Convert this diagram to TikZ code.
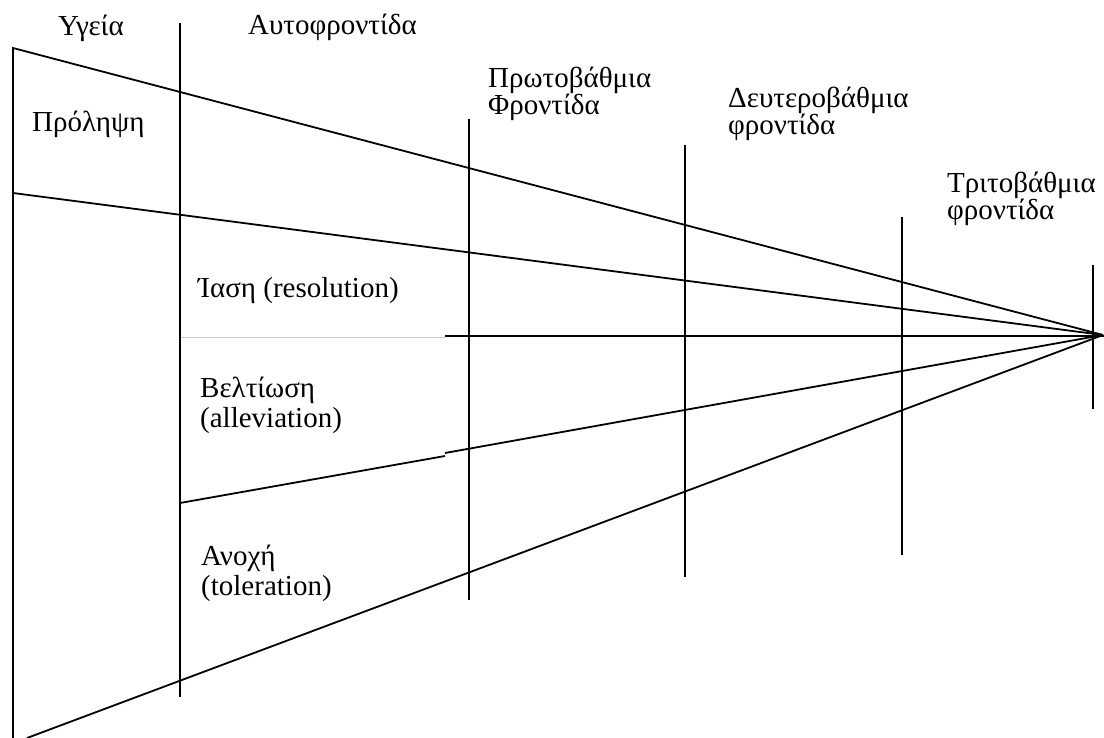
\documentclass[tikz,border=0pt]{standalone}
\usepackage{fontspec}
\setmainfont{Liberation Serif}
\begin{document}
\begin{tikzpicture}[x=1pt,y=-1pt,
  rule/.style={line width=1.8pt, black},
  faint/.style={line width=0.8pt, black!22},
  lbl/.style={anchor=base west, inner sep=0pt, align=left,
              font=\fontsize{29}{26}\selectfont},
  lblwide/.style={lbl, font=\fontsize{29}{30}\selectfont}]
\useasboundingbox (0,0) rectangle (1104,738);

% focal point where the levels converge
\coordinate (F) at (1103,335);

% left edge and the two upper rays
\coordinate (L1) at (13,48);
\coordinate (L2) at (13,193);
\coordinate (Lb) at (13,738);
\draw[rule] (Lb) -- (L1) -- (F);
\draw[rule] (L2) -- (F);

% horizontal axis (faint inside self-care, solid beyond)
\coordinate (H0) at (180,337);
\coordinate (H1) at (445,337);
\coordinate (H2) at (445,336);
\coordinate (H3) at (1104,336);
\draw[faint] (H0) -- (H1);
\draw[rule] (H2) -- (H3);

% lower rays
\coordinate (B0) at (180,503);
\coordinate (B1) at (445,456);
\coordinate (B2) at (445,453);
\draw[rule] (B0) -- (B1);
\draw[rule] (B2) -- (F);
\coordinate (C0) at (27,738);
\draw[rule] (C0) -- (F);

% vertical level separators
\coordinate (V1a) at (180,23);   \coordinate (V1b) at (180,697);
\coordinate (V2a) at (469,119);  \coordinate (V2b) at (469,600);
\coordinate (V3a) at (685,145);  \coordinate (V3b) at (685,577);
\coordinate (V4a) at (902,217);  \coordinate (V4b) at (902,555);
\coordinate (V5a) at (1093,265); \coordinate (V5b) at (1093,409);
\draw[rule] (V1a) -- (V1b);
\draw[rule] (V2a) -- (V2b);
\draw[rule] (V3a) -- (V3b);
\draw[rule] (V4a) -- (V4b);
\draw[rule] (V5a) -- (V5b);

% labels (two-line labels sit on the baseline of their last line)
\node[lbl] (ygeia) at (58,36) {Υγεία};
\node[lbl] (afto) at (248,35) {Αυτοφροντίδα};
\node[lbl] (prol) at (32,132) {Πρόληψη};
\node[lbl] (prot) at (488,115) {Πρωτοβάθμια\\Φροντίδα};
\node[lbl] (deut) at (728,135) {Δευτεροβάθμια\\φροντίδα};
\node[lbl] (trit) at (947,220) {Τριτοβάθμια\\φροντίδα};
\node[lbl] (iasi) at (198,298) {Ίαση (resolution)};
\node[lblwide] (belt) at (200,427) {Βελτίωση\\(alleviation)};
\node[lblwide] (anox) at (201,595) {Ανοχή\\(toleration)};
\end{tikzpicture}
\end{document}
